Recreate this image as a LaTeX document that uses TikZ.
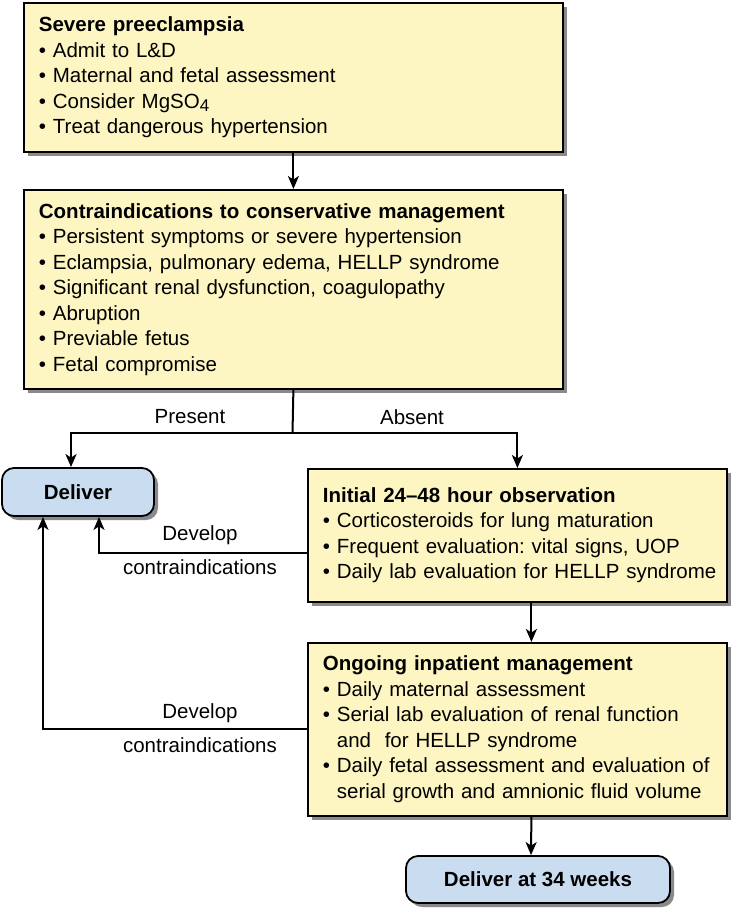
\documentclass[tikz,border=0pt]{standalone}
\usepackage{fontspec}
\setmainfont{Liberation Sans}
\usetikzlibrary{arrows.meta, positioning, shadows}
\definecolor{boxyellow}{HTML}{FDF5C2}
\definecolor{boxblue}{HTML}{C9DCF0}
\definecolor{boxshadow}{HTML}{8A8A8A}
\frenchspacing
\newcommand{\bul}[1]{\mbox{\textbullet\ #1}}
\newcommand{\bulgap}[1]{\mbox{\phantom{\textbullet\ }#1}}
\newcommand{\lowfour}{\raisebox{-0.35ex}{\fontsize{17}{17}\selectfont 4}}

\begin{document}
\begin{tikzpicture}[
    x=1pt, y=-1pt,
    font=\fontsize{20.5}{25.5}\selectfont,
    yellowbox/.style={
        draw,
        line width=1.8pt,
        fill=boxyellow,
        anchor=north west,
        align=left,
        inner xsep=15pt,
        drop shadow={shadow xshift=4pt, shadow yshift=-4pt, fill=boxshadow, opacity=1}
    },
    bluebox/.style={
        draw,
        line width=1.8pt,
        rounded corners=12pt,
        fill=boxblue,
        font=\fontsize{20.5}{25.5}\selectfont\bfseries,
        drop shadow={shadow xshift=4pt, shadow yshift=-4pt, fill=boxshadow, opacity=1}
    },
    arrowline/.style={
        -{Stealth[length=13pt, width=11pt, inset=3.5pt]},
        line width=2pt
    },
    plainline/.style={
        line width=2pt
    }
]
    \useasboundingbox (0,0) rectangle (731,909);

    % boxes
    \node[yellowbox, text width=509pt, minimum width=539pt, minimum height=149pt] (severe) at (23,2) {%
        \textbf{Severe preeclampsia}\\
        \bul{Admit to L\&D}\\
        \bul{Maternal and fetal assessment}\\
        \bul{Consider MgSO\lowfour}\\
        \bul{Treat dangerous hypertension}};
    \node[yellowbox, text width=509pt, minimum width=539pt, minimum height=199pt] (contra) at (23,189) {%
        \textbf{Contraindications to conservative management}\\
        \bul{Persistent symptoms or severe hypertension}\\
        \bul{Eclampsia, pulmonary edema, HELLP syndrome}\\
        \bul{Significant renal dysfunction, coagulopathy}\\
        \bul{Abruption}\\
        \bul{Previable fetus}\\
        \bul{Fetal compromise}};
    \node[bluebox, minimum width=152pt, minimum height=48pt] (deliver) at (78,492) {Deliver};
    \node[yellowbox, text width=389pt, minimum width=419pt, minimum height=133pt] (initial) at (307,468) {%
        \textbf{Initial 24--48 hour observation}\\
        \bul{Corticosteroids for lung maturation}\\
        \bul{Frequent evaluation: vital signs, UOP}\\
        \bul{Daily lab evaluation for HELLP syndrome}};
    \node[yellowbox, text width=389pt, minimum width=419pt, minimum height=173pt] (ongoing) at (307,642) {%
        \textbf{Ongoing inpatient management}\\
        \bul{Daily maternal assessment}\\
        \bul{Serial lab evaluation of renal function}\\
        \bulgap{and\ \ for HELLP syndrome}\\
        \bul{Daily fetal assessment and evaluation of}\\
        \bulgap{serial growth and amnionic fluid volume}};
    \node[bluebox, minimum width=264pt, minimum height=47pt] (deliverlate) at (538,879.5) {Deliver at 34 weeks};

    % branch point
    \coordinate (split) at (292.5,433);

    % connectors
    \draw[arrowline] (severe.south) -- (contra.north);
    \draw[plainline] (contra.south) -- (split);
    \draw[arrowline] (split) -| ([xshift=-7pt]deliver.north);
    \draw[arrowline] (split) -| (initial.north);
    \draw[arrowline] ([yshift=-17.5pt]initial.west) -| ([xshift=21pt]deliver.south);
    \draw[arrowline] (ongoing.west) -| ([xshift=-35pt]deliver.south);
    \draw[arrowline] ([xshift=14pt]initial.south) -- ([xshift=14pt]ongoing.north);
    \draw[arrowline] ([xshift=14pt]ongoing.south) -- ([xshift=-7pt]deliverlate.north);

    % labels
    \node (present) at (190,417) {Present};
    \node (absent) at (412,417) {Absent};
    \node (developa) at (200,535) {Develop};
    \node (contraa) at (200,567) {contraindications};
    \node (developb) at (200,713) {Develop};
    \node (contrab) at (200,745) {contraindications};
\end{tikzpicture}
\end{document}
